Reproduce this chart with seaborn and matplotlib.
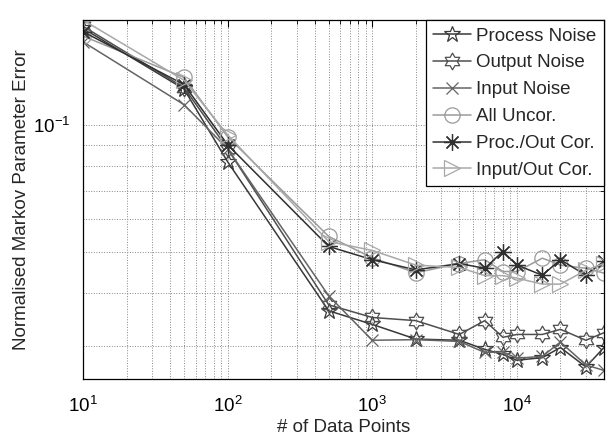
import numpy as np
import pandas as pd
import matplotlib
matplotlib.use("Agg")
import matplotlib.pyplot as plt
from matplotlib.path import Path
from matplotlib.ticker import LogLocator, NullFormatter
import seaborn as sns

# Number of data points used for the estimate
n_points = [10, 50, 100, 500, 1000, 2000, 4000, 6000, 8000, 10000, 15000, 20000, 30000, 40000]

# Normalised Markov parameter error per noise scenario
process_noise = [0.170, 0.122, 0.082, 0.0363, 0.0337, 0.0311, 0.0309, 0.0294, 0.0286, 0.0277, 0.0281, 0.0297, 0.0267, 0.0297]
output_noise = [0.172, 0.123, 0.088, 0.0375, 0.0350, 0.0344, 0.0319, 0.0344, 0.0314, 0.0319, 0.0319, 0.0328, 0.0309, 0.0322]
input_noise = [0.158, 0.112, 0.088, 0.0394, 0.0309, 0.0310, 0.0307, 0.0289, 0.0290, 0.0280, 0.0283, 0.0306, 0.0270, 0.0262]
all_uncor = [0.163, 0.130, 0.094, 0.0545, 0.0485, 0.0447, 0.0470, 0.0480, 0.0450, 0.0450, 0.0484, 0.0466, 0.0458, 0.0446]
proc_out_cor = [0.167, 0.125, 0.090, 0.0516, 0.0480, 0.0454, 0.0470, 0.0458, 0.0502, 0.0466, 0.0441, 0.0480, 0.0441, 0.0476]
input_out_cor = [0.178, 0.128, 0.095, 0.0530, 0.0505, 0.0466, 0.0460, 0.0440, 0.0440, 0.0434, 0.0420, 0.0420, 0.0453, 0.0470]

labels = ["Process Noise", "Output Noise", "Input Noise", "All Uncor.", "Proc./Out Cor.", "Input/Out Cor."]
series = [process_noise, output_noise, input_noise, all_uncor, proc_out_cor, input_out_cor]

# six-pointed star outline (two overlapping triangles)
ang = np.deg2rad(90 + 30 * np.arange(12))
rad = np.where(np.arange(12) % 2 == 0, 1.0, 1.0 / np.sqrt(3))
hex_verts = np.column_stack([rad * np.cos(ang), rad * np.sin(ang)])
hex_verts = np.vstack([hex_verts, hex_verts[:1]])
hexagram = Path(hex_verts, [Path.MOVETO] + [Path.LINETO] * 11 + [Path.CLOSEPOLY])

styles = [
    dict(marker="*", color="#383838", ms=12),
    dict(marker=hexagram, color="#4e4e4e", ms=12),
    dict(marker="x", color="#646464", ms=9),
    dict(marker="o", color="#9a9a9a", ms=11),
    dict(marker=(8, 2, 0), color="#303030", ms=12),
    dict(marker=">", color="#a8a8a8", ms=11),
]

sns.set_theme(style="white")
plt.rcParams["font.family"] = ["Liberation Sans", "DejaVu Sans"]
plt.rcParams["mathtext.fontset"] = "custom"
plt.rcParams["mathtext.rm"] = "Liberation Sans"
plt.rcParams["mathtext.it"] = "Liberation Sans"

fig = plt.figure(figsize=(6.11, 4.42), dpi=100)
ax = fig.add_axes([0.1358, 0.1425, 0.8527, 0.8123])

for lab, vals, st in zip(labels, series, styles):
    df = pd.DataFrame({"n": n_points, "err": vals})
    sns.lineplot(data=df, x="n", y="err", ax=ax, label=lab, color=st["color"],
                 marker=st["marker"], markersize=st["ms"], markerfacecolor="none",
                 markeredgecolor=st["color"], markeredgewidth=0.9, linewidth=1.1)

ax.set_xscale("log")
ax.set_yscale("log")
ax.set_xlim(10, 40000)
ax.set_ylim(0.025, 0.178)

ax.xaxis.set_major_locator(LogLocator(base=10, numticks=10))
ax.xaxis.set_minor_locator(LogLocator(base=10, subs=np.arange(2, 10), numticks=20))
ax.yaxis.set_minor_locator(LogLocator(base=10, subs=np.arange(2, 10), numticks=20))
ax.xaxis.set_minor_formatter(NullFormatter())
ax.yaxis.set_minor_formatter(NullFormatter())

ax.grid(True, which="both", linestyle=":", color="#888888", linewidth=0.7)
ax.tick_params(which="both", direction="in", top=True, right=True, colors="black",
               labelsize=13.5)
ax.tick_params(axis="x", pad=12)
ax.tick_params(axis="y", pad=9)
ax.tick_params(which="major", length=5, width=0.8)
ax.tick_params(which="minor", length=3, width=0.6)
for sp in ax.spines.values():
    sp.set_color("black")
    sp.set_linewidth(0.9)

ax.set_xlabel("# of Data Points", fontsize=13.5, labelpad=2)
ax.set_ylabel("Normalised Markov Parameter Error", fontsize=13.5, labelpad=2.5)

leg = ax.legend(loc="upper right", fontsize=13.5, frameon=True, fancybox=False,
                framealpha=1, edgecolor="black", borderaxespad=0.0,
                labelspacing=0.52, handlelength=2.0, handletextpad=0.3,
                borderpad=0.4)
leg.get_frame().set_linewidth(0.9)

fig.savefig("out.png", dpi=100)
